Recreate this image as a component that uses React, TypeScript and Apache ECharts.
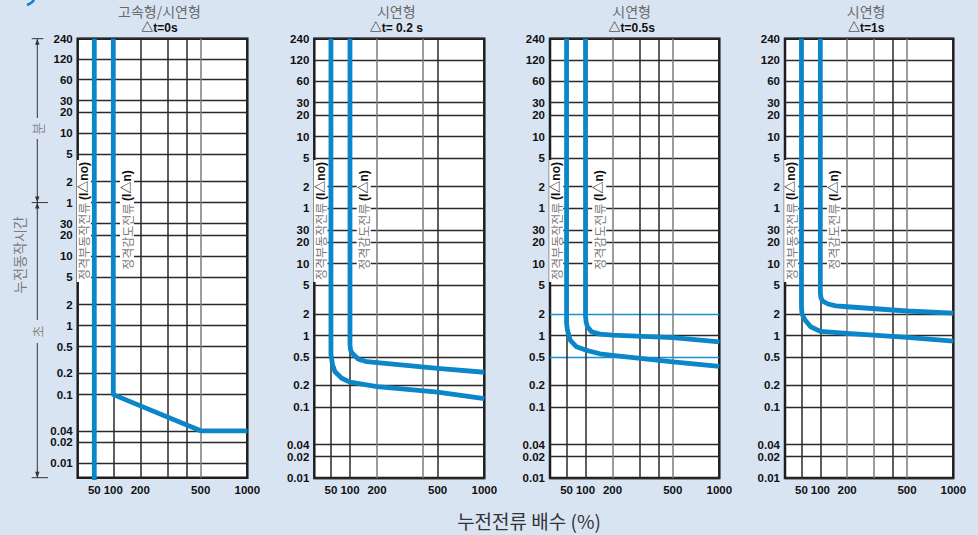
import React, { useEffect, useRef } from "react";
import * as echarts from "echarts";

// ---- hand-drawn piecewise-log scales of the original chart (value -> axis unit) ----
const X_SCALE_VALUES = [50, 100, 200, 300, 400, 500, 1000];
const X_SCALE_UNITS = [16.6, 35.6, 62.6, 89.6, 108.6, 123, 169.6];
// time in seconds (240 min ... 0.01 s)
const Y_SCALE_VALUES = [14400, 7200, 3600, 1800, 1200, 600, 300, 120, 60, 30, 20, 10, 5, 2, 1, 0.5, 0.2, 0.1, 0.04, 0.02, 0.01];
const Y_SCALE_UNITS = [439.3, 418, 397, 375.3, 363, 341.3, 319.7, 291.3, 269.7, 248, 236, 214.3, 192.7, 164, 142.3, 120.7, 93, 71, 33.5, 21.5, 0];
const Y_TICK_LABELS = ["240", "120", "60", "30", "20", "10", "5", "2", "1", "30", "20", "10", "5", "2", "1", "0.5", "0.2", "0.1", "0.04", "0.02", "0.01"];
const X_TICK_VALUES = [50, 100, 200, 500, 1000];
const X_TICK_LABELS = ["50", "100", "200", "500", "1000"];

const PANEL_TITLES = ["고속형/시연형", "시연형", "시연형", "시연형"];
const PANEL_SUBTITLES = ["△t=0s", "△t= 0.2 s", "△t=0.5s", "△t=1s"];
const X_GRID_VALUES = [
  [50, 100, 200, 300, 400, 500],
  [50, 100, 200, 400, 500],
  [50, 100, 200, 300, 400, 500],
  [50, 100, 200, 300, 400, 500],
];

// curves: [current multiple %, operating time s]
const DT0_NO = [[50, 14400], [50, 0.001]];
const DT0_N = [[100, 14400], [100, 0.1], [500, 0.04], [1000, 0.04]];
const DT02_NO = [[50, 14400], [50, 0.55], [53, 0.39], [58, 0.31], [74, 0.25], [100, 0.22], [200, 0.19], [500, 0.16], [1000, 0.13]];
const DT02_N = [[100, 14400], [100, 0.74], [101.5, 0.63], [106, 0.568], [124, 0.468], [154, 0.432], [200, 0.418], [500, 0.347], [1000, 0.305]];
const DT05_NO = [[50, 14400], [50, 1.5], [51.5, 1.2], [57, 0.87], [72, 0.7], [100, 0.63], [145, 0.56], [200, 0.53], [500, 0.43], [1000, 0.37]];
const DT05_N = [[100, 14400], [100, 1.85], [101.5, 1.55], [105, 1.33], [117, 1.13], [145, 1.05], [200, 1.02], [500, 0.94], [1000, 0.82]];
const DT1_NO = [[50, 14400], [50, 2.5], [51, 2.0], [57, 1.65], [70, 1.33], [100, 1.15], [200, 1.08], [500, 0.95], [1000, 0.84]];
const DT1_N = [[100, 14400], [100, 3.9], [101.5, 3.4], [105, 3.05], [122, 2.75], [150, 2.6], [200, 2.52], [500, 2.2], [1000, 2.05]];
const PANEL_CURVES = [[DT0_NO, DT0_N], [DT02_NO, DT02_N], [DT05_NO, DT05_N], [DT1_NO, DT1_N]];

const LABEL_NO = "정격부동작전류 ";
const LABEL_NO_SYM = "(I△no)";
const LABEL_N = "정격감도전류 ";
const LABEL_N_SYM = "(I△n)";
const Y_NAME = "누전동작시간";
const MIN_TEXT = "분";
const SEC_TEXT = "초";
const X_NAME = "누전전류 배수 (%)";

function makeScale(vals: number[], units: number[]) {
  return (v: number) => {
    const n = vals.length;
    let i = -1;
    for (let k = 0; k < n - 1; k++) {
      if ((v - vals[k]) * (v - vals[k + 1]) <= 0) { i = k; break; }
    }
    if (i < 0) {
      const asc = vals[n - 1] > vals[0];
      const beforeFirst = asc ? v < vals[0] : v > vals[0];
      i = beforeFirst ? 0 : n - 2;
    }
    const t = (Math.log(v) - Math.log(vals[i])) / (Math.log(vals[i + 1]) - Math.log(vals[i]));
    return units[i] + t * (units[i + 1] - units[i]);
  };
}
const tx = makeScale(X_SCALE_VALUES, X_SCALE_UNITS);
const ty = makeScale(Y_SCALE_VALUES, Y_SCALE_UNITS);

const BLUE = "#0b86c8";
const BG = "#d9e4f3";
const NUM_FONT = "'Liberation Sans', Arial, sans-serif";
const KR_FONT = "'Noto Sans CJK KR', sans-serif";

const GRID_LEFT = [77.7, 314.3, 550, 785];
const GRID_W = [169.6, 170, 169.3, 168.3];
const GRID_TOP = 38.7;
const GRID_H = [439, 439.3, 439.3, 439.3];
const X_MAX = 169.6;
const Y_MAX = 439.3;
const Y_MIN = [-15, 0, 0, 0];
const GRAY_X = [[500], [200, 400], [200, 500], [200, 300, 500]];

function lookup(v: number, units: number[], labels: string[]) {
  for (let i = 0; i < units.length; i++) if (Math.abs(units[i] - v) < 0.05) return labels[i];
  return "";
}

export default function App() {
  const ref = useRef<HTMLDivElement>(null);
  useEffect(() => {
    const chart = echarts.init(ref.current!, null, { renderer: "svg" });
    const grids: any[] = [];
    const xAxes: any[] = [];
    const yAxes: any[] = [];
    const series: any[] = [];
    const titles: any[] = [];
    const yUnits = Y_SCALE_VALUES.map(ty);
    const xTickUnits = X_TICK_VALUES.map(tx);

    for (let i = 0; i < 4; i++) {
      grids.push({
        left: GRID_LEFT[i], top: GRID_TOP, width: GRID_W[i], height: GRID_H[i],
        show: true, backgroundColor: "#ffffff", borderColor: "#1e1e1e", borderWidth: 2.5,
      });
      xAxes.push({
        gridIndex: i, type: "value", min: 0, max: X_MAX,
        axisLine: { show: false }, axisTick: { show: false }, splitLine: { show: false },
        axisLabel: {
          customValues: xTickUnits, margin: 6,
          formatter: (v: number) => lookup(v, xTickUnits, X_TICK_LABELS),
          fontFamily: NUM_FONT, fontWeight: "bold", fontSize: 11.5, color: "#111",
        },
      });
      yAxes.push({
        gridIndex: i, type: "value", min: Y_MIN[i], max: Y_MAX,
        axisLine: { show: false }, axisTick: { show: false }, splitLine: { show: false },
        axisLabel: {
          customValues: yUnits, margin: 5,
          formatter: (v: number) => lookup(v, yUnits, Y_TICK_LABELS),
          fontFamily: NUM_FONT, fontWeight: "bold", fontSize: 11.5, lineHeight: 11, color: "#111",
        },
      });
      const blueH = i === 2 ? [2, 0.5] : [];
      const lineData: any[] = [];
      Y_SCALE_VALUES.forEach((v) => {
        if (blueH.indexOf(v) >= 0) return;
        lineData.push({ yAxis: ty(v), lineStyle: { color: "#2a2a2a", width: 1.3, type: "solid" } });
      });
      blueH.forEach((v) => {
        lineData.push({ yAxis: ty(v), lineStyle: { color: "#1a8fd0", width: 1.3, type: "solid" } });
      });
      X_GRID_VALUES[i].forEach((v) => {
        const gray = GRAY_X[i].indexOf(v) >= 0;
        lineData.push({ xAxis: tx(v), lineStyle: { color: gray ? "#7d7d7d" : "#2a2a2a", width: 1.5, type: "solid" } });
      });
      series.push({
        type: "line", xAxisIndex: i, yAxisIndex: i, z: 1, silent: true,
        data: [[0, Y_MAX]], symbol: "none", lineStyle: { opacity: 0 },
        markLine: {
          silent: true, symbol: ["none", "none"], label: { show: false },
          emphasis: { disabled: true }, animation: false, data: lineData,
        },
      });
      PANEL_CURVES[i].forEach((curve) => {
        series.push({
          type: "line", xAxisIndex: i, yAxisIndex: i, z: 5, silent: true,
          symbol: "none", showSymbol: false, clip: true,
          data: curve.map(([x, y]) => [tx(x), ty(y)]),
          lineStyle: { color: BLUE, width: 4.8, join: "round", cap: "butt" },
        });
      });
      titles.push({
        left: GRID_LEFT[i] + GRID_W[i] / 2 - 3, top: 4, textAlign: "center",
        text: PANEL_TITLES[i], subtext: PANEL_SUBTITLES[i], itemGap: 4, padding: 0,
        textStyle: { fontFamily: KR_FONT, fontSize: 14, fontWeight: "normal", color: "#6a6a6a" },
        subtextStyle: { fontFamily: NUM_FONT + ", " + KR_FONT, fontSize: 12, fontWeight: "bold", color: "#111" },
      });
    }

    chart.setOption({
      animation: false,
      backgroundColor: BG,
      title: titles,
      grid: grids,
      xAxis: xAxes,
      yAxis: yAxes,
      series,
    });

    const px = (gi: number, xu: number, yu: number) => chart.convertToPixel({ gridIndex: gi } as any, [xu, yu]) as number[];
    const top = px(0, 0, Y_MAX)[1];
    const mid = px(0, 0, ty(60))[1];
    const bot = px(0, 0, Y_MIN[0])[1];
    const ax = 37.3;
    const lineStyle = { stroke: "#333", lineWidth: 1 };
    const seg = (x1: number, y1: number, x2: number, y2: number) => ({ type: "line", shape: { x1, y1, x2, y2 }, style: lineStyle, silent: true });
    const arrow = (tipY: number, dir: number) => ({
      type: "polygon", silent: true,
      shape: { points: [[ax, tipY], [ax - 2.2, tipY + dir * 6], [ax + 2.2, tipY + dir * 6]] },
      style: { fill: "#333" },
    });
    const rotText = (x: number, y: number, text: string, size: number, fill: string) => ({
      type: "text", x, y, rotation: Math.PI / 2, silent: true,
      style: { text, fill, fontSize: size, fontFamily: KR_FONT, align: "center", verticalAlign: "middle" },
    });
    const graphics: any[] = [
      seg(31.7, top, 43.3, top), seg(31.7, mid, 48, mid), seg(31.7, bot, 48, bot),
      seg(ax, top, ax, 118), seg(ax, 139, ax, mid), seg(ax, mid, ax, 320), seg(ax, 343, ax, bot),
      arrow(top, 1), arrow(mid, -1), arrow(mid, 1), arrow(bot, -1),
      rotText(37.5, 128.5, MIN_TEXT, 13, "#888"),
      rotText(37.5, 331.5, SEC_TEXT, 13, "#888"),
      rotText(19, 255, Y_NAME, 14, "#7a7a7a"),
      { type: "text", x: 529, y: 520, silent: true, style: { text: X_NAME, fill: "#333", fontSize: 19, fontFamily: KR_FONT, align: "center", verticalAlign: "middle" } },
      { type: "bezierCurve", silent: true, shape: { x1: 34, y1: -1, x2: 27, y2: 5, cpx1: 33, cpy1: 3 }, style: { stroke: BLUE, lineWidth: 2.5, fill: null } },
    ];
    for (let i = 0; i < 4; i++) {
      const pNo = px(i, 6.2, 0);
      const pN = px(i, 49.3, 0);
      const rich = {
        a: { fill: "#7a7a7a", fontSize: 12, fontFamily: KR_FONT },
        b: { fill: "#111", fontSize: 12, fontWeight: "bold", fontFamily: NUM_FONT + ", " + KR_FONT },
      };
      graphics.push({
        type: "text", x: pNo[0], y: 221, rotation: Math.PI / 2, silent: true, z: 10,
        style: { text: "{a|" + LABEL_NO + "}{b|" + LABEL_NO_SYM + "}", rich, align: "center", verticalAlign: "middle", backgroundColor: "#fff", padding: [1, 2] },
      });
      graphics.push({
        type: "text", x: pN[0], y: 220, rotation: Math.PI / 2, silent: true, z: 10,
        style: { text: "{a|" + LABEL_N + "}{b|" + LABEL_N_SYM + "}", rich, align: "center", verticalAlign: "middle", backgroundColor: "#fff", padding: [1, 2] },
      });
    }
    chart.setOption({ graphic: graphics });
    return () => chart.dispose();
  }, []);
  return (
    <div
      ref={ref}
      style={{ position: "absolute", left: 0, top: 0, width: 978, height: 535, background: BG }}
    />
  );
}
